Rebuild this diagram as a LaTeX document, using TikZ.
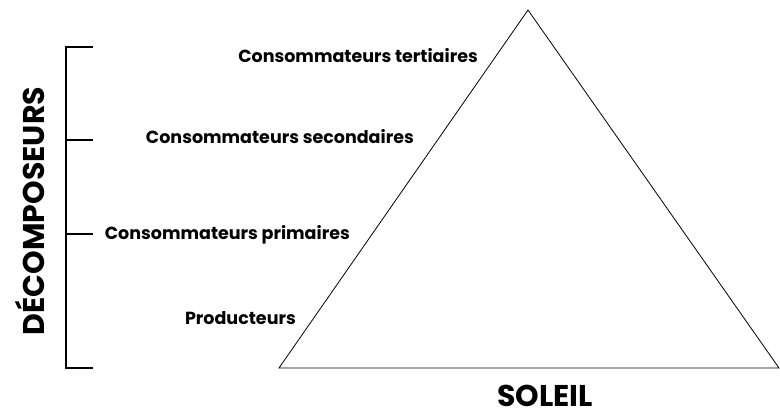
\documentclass[tikz,border=0pt]{standalone}
\usepackage{fontspec}
\setmainfont{Poppins}
\begin{document}
\begin{tikzpicture}[x=1pt,y=-1pt,
    level/.style={font=\bfseries\fontsize{17.5}{20}\selectfont,inner sep=0pt},
    title/.style={font=\bfseries\fontsize{30}{34}\selectfont,inner sep=0pt}]
    \useasboundingbox (0,0) rectangle (780,418);
    % pyramide
    \coordinate (apex) at (528,10);
    \coordinate (baseL) at (279,368);
    \coordinate (baseR) at (779,368);
    \draw[line width=0.8pt,line join=miter] (apex) -- (baseL) -- (baseR) -- cycle;
    % accolade des decomposeurs
    \coordinate (b1) at (66,47);
    \coordinate (b2) at (66,140);
    \coordinate (b3) at (66,234);
    \coordinate (b4) at (66,368);
    \coordinate (t1) at (93,47);
    \coordinate (t2) at (93,140);
    \coordinate (t3) at (93,234);
    \coordinate (t4) at (93,368);
    \draw[line width=1.2pt] (t1) -- (b1) -- (b4) -- (t4);
    \draw[line width=1.2pt] (b2) -- (t2);
    \draw[line width=1.2pt] (b3) -- (t3);
    \node[title,rotate=90] (decomp) at (30,211) {DÉCOMPOSEURS};
    \node[title] (soleil) at (545,396) {SOLEIL};
    % niveaux
    \node[level,anchor=east] (tert) at (478,56) {Consommateurs tertiaires};
    \node[level,anchor=east] (sec) at (414,137) {Consommateurs secondaires};
    \node[level,anchor=east] (prim) at (350,235) {Consommateurs primaires};
    \node[level,anchor=east] (prod) at (296,318) {Producteurs};
\end{tikzpicture}
\end{document}
